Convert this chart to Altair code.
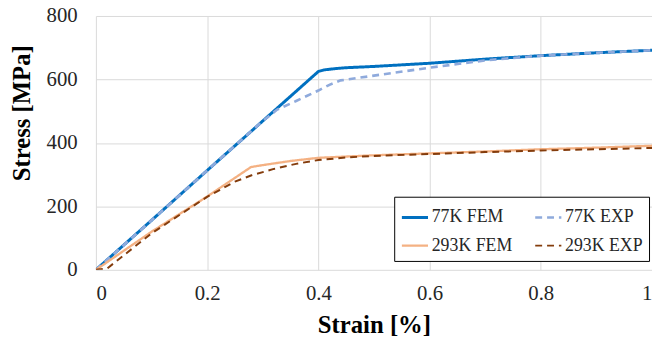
import altair as alt
import pandas as pd

series_names = ["77K FEM", "77K EXP", "293K FEM", "293K EXP"]

fem77_x = [0.0, 0.1, 0.2, 0.3, 0.4, 0.41, 0.43, 0.45, 0.5, 0.6, 0.7, 0.8, 0.9, 1.0]
fem77_y = [0, 156, 313, 469, 625, 630, 634, 637, 641, 651, 664, 675, 684, 692]

exp77_x = [0.0, 0.1, 0.2, 0.3, 0.326, 0.36, 0.4, 0.42, 0.44, 0.5, 0.6, 0.7, 0.8, 0.9, 1.0]
exp77_y = [0, 156, 313, 469, 505, 532, 565, 583, 597, 612, 637, 660, 675, 684, 692]

fem293_x = [0.0, 0.1, 0.2, 0.279, 0.3, 0.35, 0.4, 0.45, 0.5, 0.6, 0.7, 0.8, 0.9, 1.0]
fem293_y = [0, 120, 231, 324, 330, 343, 353, 357, 361, 367, 373, 380, 385, 391]

exp293_x = [0.0, 0.02, 0.1, 0.2, 0.25, 0.28, 0.32, 0.36, 0.4, 0.45, 0.5, 0.6, 0.7, 0.8, 0.9, 1.0]
exp293_y = [0, 4, 115, 230, 278, 298, 318, 334, 346, 354, 359, 365, 371, 376, 380, 384]

colors = ["#0070C0", "#8FAADC", "#F4B183", "#843C0C"]
dashes = [[1, 0], [7, 5], [1, 0], [7, 5]]
widths = [3, 2, 2, 2]

rows = []
for name, xs, ys in zip(series_names,
                        [fem77_x, exp77_x, fem293_x, exp293_x],
                        [fem77_y, exp77_y, fem293_y, exp293_y]):
    for i, (a, b) in enumerate(zip(xs, ys)):
        rows.append({"series": name, "strain": a, "stress": b, "i": i})
df = pd.DataFrame(rows)

font = "Liberation Serif, Times New Roman, serif"
leg = alt.Legend(
    title=None, orient="none", direction="horizontal", legendX=302, legendY=183,
    columns=2, symbolType="stroke", symbolSize=700, labelFontSize=18, labelFont=font,
    labelColor="#262626", padding=6, rowPadding=5, columnPadding=17,
    labelOffset=2, strokeColor="#000000", fillColor="white", labelLimit=200,
)

chart = alt.Chart(df).mark_line(clip=True).encode(
    x=alt.X("strain:Q", scale=alt.Scale(domain=[0, 1], nice=False),
            axis=alt.Axis(values=[0, 0.2, 0.4, 0.6, 0.8, 1.0], format="~g",
                          title="Strain [%]", titleY=55, titleBaseline="middle")),
    y=alt.Y("stress:Q", scale=alt.Scale(domain=[0, 800], nice=False),
            axis=alt.Axis(values=[0, 200, 400, 600, 800], title="Stress [MPa]",
                          titleX=-75, titleY=98, titleAngle=270,
                          titleAlign="center", titleBaseline="middle")),
    color=alt.Color("series:N", scale=alt.Scale(domain=series_names, range=colors),
                    sort=series_names, legend=leg),
    strokeDash=alt.StrokeDash("series:N", scale=alt.Scale(domain=series_names, range=dashes),
                              sort=series_names, legend=leg),
    strokeWidth=alt.StrokeWidth("series:N", scale=alt.Scale(domain=series_names, range=widths),
                                sort=series_names, legend=leg),
    order="i:Q",
).properties(
    width=563, height=257,
    autosize=alt.AutoSizeParams(type="none"),
    padding={"left": 89, "top": 6, "right": 0, "bottom": 72},
).configure_view(stroke=None).configure_axis(
    grid=True, gridColor="#d9d9d9", gridWidth=1, domain=False, ticks=False, tickSize=0,
    labelFont=font, labelFontSize=21, labelColor="#262626",
    titleFont=font, titleFontSize=25, titleFontWeight="bold", titleColor="#000000",
).configure_axisY(labelPadding=19).configure_axisX(labelPadding=13)

chart.save("out.html", embed_options={"renderer": "svg", "actions": False})
